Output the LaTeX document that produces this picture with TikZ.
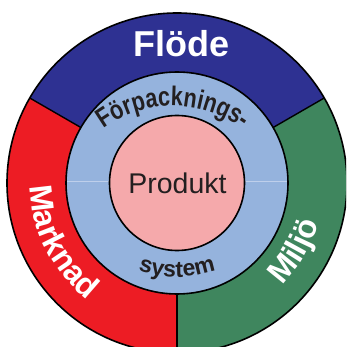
\documentclass[tikz,border=0pt]{standalone}
\usepackage{fontspec}
\setmainfont{Liberation Sans}
\usetikzlibrary{decorations.text}
\definecolor{flowblue}{RGB}{46,49,146}
\definecolor{markred}{RGB}{237,28,36}
\definecolor{envgreen}{RGB}{63,134,94}
\definecolor{pkgblue}{RGB}{149,179,221}
\definecolor{prodpink}{RGB}{245,169,171}
\definecolor{darktext}{RGB}{35,31,32}
\definecolor{faintline}{RGB}{190,207,235}
\tikzset{
  ring/.style={draw=black, line width=1.6pt},
  divider/.style={draw=black, line width=1.4pt},
  bigword/.style={text=white, font=\fontsize{36}{36}\selectfont\bfseries},
  midword/.style={text=darktext, font=\fontsize{28.5}{28.5}\selectfont},
  pkgletter/.style={text=darktext, font=\fontsize{27}{27}\selectfont\bfseries,
                    inner sep=0pt, anchor=base}
}
\begin{document}
\begin{tikzpicture}[x=1pt,y=1pt]
\useasboundingbox (0,0) rectangle (346,-347);
\clip (0,0) rectangle (346,-347);
\begin{scope}[shift={(177,-183)}]
  % outer sectors
  \fill[flowblue] (0,0) -- (30:170) arc[start angle=30,end angle=150,radius=170] -- cycle;
  \fill[markred] (0,0) -- (150:170) arc[start angle=150,end angle=270,radius=170] -- cycle;
  \fill[envgreen] (0,0) -- (270:170) arc[start angle=270,end angle=390,radius=170] -- cycle;
  \draw[ring] (0,0) circle[radius=170];
  \coordinate (d1a) at (30:111);  \coordinate (d1b) at (30:170);
  \coordinate (d2a) at (150:111); \coordinate (d2b) at (150:170);
  \coordinate (d3a) at (270:111); \coordinate (d3b) at (270:170);
  \draw[divider] (d1a) -- (d1b);
  \draw[divider] (d2a) -- (d2b);
  \draw[divider] (d3a) -- (d3b);
  % packaging ring
  \filldraw[ring, fill=pkgblue] (0,0) circle[radius=111];
  \coordinate (fl1) at (-110,2); \coordinate (fl2) at (-67,2);
  \coordinate (fl3) at (67,2);   \coordinate (fl4) at (110,2);
  \draw[faintline, line width=0.7pt] (fl1) -- (fl2);
  \draw[faintline, line width=0.7pt] (fl3) -- (fl4);
  % product
  \filldraw[ring, fill=prodpink] (0,0) circle[radius=67.5];
  \node[midword, anchor=base] (produkt) at (0.5,-10) {Produkt};
  \node[bigword, anchor=base] (flode) at (4,126) {Flöde};
  % outer curved words
  \path[decorate, decoration={text along path, text align=center, text color=white,
      text={|\fontsize{32}{32}\selectfont\bfseries|Marknad}}]
      (147:147) arc[start angle=147, end angle=267, radius=147];
  \path[decorate, decoration={text along path, text align=center, text color=white,
      text={|\fontsize{32}{32}\selectfont\bfseries|Miljö}}]
      (-90:147) arc[start angle=-90, end angle=30, radius=147];
\end{scope}
% "Förpacknings-" letter by letter on a flatter arc
\begin{scope}[shift={(173,-223)}]
  \foreach \ch/\ang [count=\i] in {F/123.13, ö/116.67, r/111.39, p/106.10, a/99.94,
      c/94.06, k/88.18, n/82.01, i/77.32, n/72.62, g/66.16, s/59.99, -/55.29}
    \node[pkgletter, rotate=\ang-90] (fp\i) at (\ang:117) {\scalebox{0.8}[1]{\ch}};
\end{scope}
\begin{scope}[shift={(177,-157)}]
  \path[decorate, decoration={text along path, text align=center, text color=darktext,
      text={|\fontsize{23}{23}\selectfont\bfseries|system}}]
      (230:120) arc[start angle=230, end angle=310, radius=120];
\end{scope}
\end{tikzpicture}
\end{document}
